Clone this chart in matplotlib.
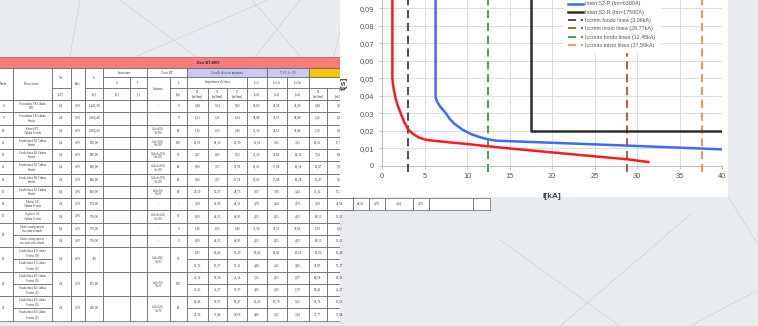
import matplotlib.pyplot as plt
from matplotlib.patches import Rectangle, Polygon
from matplotlib.ticker import MultipleLocator, FuncFormatter

# ---------------- selectivity curves (I in kA, t in s) ----------------
red_I = [1.22, 1.22, 1.30, 1.53, 1.80, 2.20, 2.60, 3.10, 3.70, 4.30, 5.00, 6.00, 8.00, 10.0, 12.45, 16.0, 20.0, 24.0, 28.77, 31.3]
red_t = [0.12, 0.050, 0.046, 0.040, 0.035, 0.030, 0.025, 0.0205, 0.018, 0.0162, 0.0150, 0.0143, 0.0133, 0.0124, 0.0111, 0.0094, 0.0076, 0.0058, 0.0037, 0.0021]

blue_I = [6.3, 6.3, 6.5, 6.8, 7.5, 8.0, 8.5, 9.5, 10.5, 11.5, 12.45, 13.4, 20.0, 28.77, 37.56, 40.0]
blue_t = [0.12, 0.039, 0.0365, 0.034, 0.030, 0.0265, 0.024, 0.0205, 0.018, 0.0163, 0.0151, 0.0143, 0.0131, 0.0115, 0.0098, 0.0093]

black_I = [17.5, 17.5, 40.0]
black_t = [0.12, 0.020, 0.020]

curve_labels = ['Interr.52-L (Im=1250A)', 'Interr.52-P (Im=6300A)', 'Interr.52-R (Im=17500A)']

icc_values = [3.06, 28.77, 12.45, 37.56]
icc_labels = ['Iccmin fondo linea (3,06kA)', 'Iccmin inizio linea (28,77kA)',
              'Iccmax fondo linea (12,45kA)', 'Iccmax inizio linea (37,56kA)']
icc_colors = ['#3f3f3f', '#b4502a', '#3f9a3f', '#f4894a']

# ---------------- network table "Rete BT 400V" ----------------
node_labels = ['8', '9', '10', '11', '12', '13', '14', '15', '16', '17', '18', '19', '20', '21']
node_span = [1, 1, 1, 1, 1, 1, 1, 1, 1, 1, 2, 2, 2, 2]
line_merged = [False] * 11 + [True, True, True]

descriptions = [
    'Secondario TR Cabina\nCBC', 'Secondario TR Cabina\nServizi', 'Sbarra BT\nCabina Servizi',
    'Fondo linea N1 Cabina\nServizi', 'Fondo linea N2 Cabina\nServizi', 'Fondo linea N3 Cabina\nServizi',
    'Fondo linea N4 Cabina\nServizi', 'Fondo linea N5 Cabina\nServizi', 'Motori GE\nCabina Servizi',
    'Ingresso GE\nCabina Servizi', 'Sbarre emergenza in\nesercizio normale', 'Sbarre emergenza in\nesercizio sotto diesel',
    'Fondo linea E1 Cabina\nServizi (N)', 'Fondo linea E1 Cabina\nServizi (E)',
    'Fondo linea E2 Cabina\nServizi (N)', 'Fondo linea E2 Cabina\nServizi (E)',
    'Fondo linea E3 Cabina\nServizi (N)', 'Fondo linea E3 Cabina\nServizi (E)',
]
vn = ['0,4'] * 14
fasi = ['3+N'] * 14
ib = ['1.443,38', '2.309,40', '2.309,40', '500,00', '630,00', '630,00', '630,00', '100,00',
      '578,00', '578,00', '578,00', '320', '125,00', '200,00']
ia = [''] * 14
ir = [''] * 14
sistema = ['-', '-', '3x(1x400)\n+1x300', '3x(1x300)\n+1x150', '3x(2x1x150)\n+1x150', '3x(2x1x150)\n+1x150',
           '3x(2x1x150)\n+1x150', '3x(1x70)\n+1x35', '-', '3x(2x1x120)\n+1x120', '-',
           '3x(1x185)\n+1x95', '3x(1x70)\n+1x35', '3x(1x120)\n+1x70']
length = ['0', '0', '10', '150', '50', '80', '80', '80', '-', '30', '0', '50', '150', '80']

r_max = ['1,88', '1,23', '1,36', '11,59', '4,67', '6,66', '6,66', '23,29', '5,60', '8,26', '1,36', '8,26',
         '6,82', '13,72', '42,32', '49,22', '14,46', '21,36']
x_max = ['9,64', '6,11', '6,31', '18,16', '8,41', '9,67', '9,67', '15,27', '47,90', '40,22', '6,31', '40,22',
         '10,46', '55,37', '19,36', '42,27', '13,03', '35,94']
z_max = ['9,82', '6,24', '6,46', '21,39', '9,62', '11,74', '11,74', '28,73', '48,31', '40,91', '6,46', '40,91',
         '12,49', '55,11', '46,54', '79,37', '19,47', '59,68']
icc3 = ['24,69', '38,88', '37,56', '11,53', '25,20', '20,65', '20,65', '9,07', '4,79', '4,63', '37,56', '4,63',
        '19,42', '4,40', '5,21', '3,05', '12,45', '4,85']
icc1 = ['21,38', '33,67', '32,53', '9,82', '21,82', '17,88', '17,88', '7,86', '4,14', '4,01', '32,53', '4,01',
        '16,82', '3,81', '4,51', '2,65', '10,79', '3,31']
icc2 = ['24,69', '38,88', '32,84', '3,53', '14,32', '10,18', '10,18', '3,44', '4,79', '4,33', '32,84', '4,33',
        '16,66', '3,66', '1,87', '1,59', '5,65', '3,14']
r_min = ['1,88', '1,26', '1,50', '20,61', '7,64', '11,47', '11,47', '43,32', '5,60', '10,53', '1,50', '10,53',
         '12,02', '21,05', '80,58', '89,41', '26,74', '35,77']
x_min = ['9,64', '6,11', '6,31', '17,96', '8,41', '9,67', '9,67', '17,27', '47,96', '49,22', '6,31', '49,22',
         '19,46', '55,37', '19,36', '42,27', '13,03', '35,94']
# rest of the "Motori GE" row (node 16)
motori_tail = ['48,51', '4,79', '4,14', '4,79', '', '']

W, H = 758, 326
fig = plt.figure(figsize=(W / 100, H / 100), dpi=100)
bg = fig.add_axes([0, 0, 1, 1])
bg.set_xlim(0, W)
bg.set_ylim(H, 0)
bg.axis('off')

# slide background with the thin decorative strokes
bg.add_patch(Rectangle((0, 0), W, H, color='#e8ebf0', zorder=0))
strokes = [((70, 56), (80, 0)), ((120, 0), (195, 56)), ((137, 56), (268, 0)), ((252, 0), (300, 56)),
           ((300, 0), (256, 56)), ((334, 56), (340, 30)), ((728, 196), (758, 245)),
           ((560, 326), (690, 215)), ((690, 326), (758, 290)), ((500, 240), (620, 326))]
for a, b in strokes:
    bg.plot([a[0], b[0]], [a[1], b[1]], color='#d3d7de', lw=0.7, zorder=1)

edge = '#505050'
serif = 'Liberation Serif'
clip = Polygon([(-10, 0), (W, 0), (W, 210.7), (340, 210.7), (340, H + 5), (-10, H + 5)],
               closed=True, transform=bg.transData, visible=False)
bg.add_patch(clip)


def cell(x0, x1, y0, y1, text='', fc='white', bold=False, size=2.3):
    r = Rectangle((x0, y0), x1 - x0, y1 - y0, facecolor=fc, edgecolor=edge, lw=0.45, zorder=3)
    bg.add_patch(r)
    r.set_clip_path(clip)
    if text:
        t = bg.text((x0 + x1) / 2, (y0 + y1) / 2, text, ha='center', va='center', fontsize=size,
                    family=serif, color='#333333', fontweight='bold' if bold else 'normal',
                    linespacing=1.1, zorder=4)
        t.set_clip_path(clip)


cols = [-6, 12.7, 51.7, 70.7, 85, 103.3, 130, 146.7, 170, 187, 207.7, 227.3, 247.3, 266.7, 286.7, 309.3, 326.7, 353]
tail_cols = [353, 369, 385, 413, 429, 473, 490]
lav = '#c9c9f7'
yel = '#f6c60a'

# title band
band = Rectangle((-6, 56.7), 500, 11.6, facecolor='#f47c7c', edgecolor='#c05050', lw=0.5, zorder=3)
bg.add_patch(band)
bg.text(208, 62.5, 'Rete BT 400V', ha='center', va='center', fontsize=2.8, family=serif,
        fontweight='bold', color='#222', zorder=4)

h1, h2, h3, h4 = 68.3, 77.0, 88.0, 100.0
cell(cols[0], cols[1], h1, h4, 'Nodo')
cell(cols[1], cols[2], h1, h4, 'Descrizione')
cell(cols[2], cols[3], h1, h3, 'Vn')
cell(cols[2], cols[3], h3, h4, '[kV]')
cell(cols[3], cols[4], h1, h4, 'Fasi')
cell(cols[4], cols[5], h1, h3, 'Ib')
cell(cols[4], cols[5], h3, h4, '[A]')
cell(cols[5], cols[7], h1, h2, 'Inserzione')
cell(cols[5], cols[6], h2, h3, 'Ia')
cell(cols[6], cols[7], h2, h3, 'Ir')
cell(cols[5], cols[6], h3, h4, '[A]')
cell(cols[6], cols[7], h3, h4, '[s]')
cell(cols[7], cols[9], h1, h2, 'Cavo BT')
cell(cols[7], cols[8], h2, h4, 'Sistema')
cell(cols[8], cols[9], h2, h3, 'L')
cell(cols[8], cols[9], h3, h4, '[m]')
cell(cols[9], cols[13], h1, h2, 'Livelli di cc.to massimi', fc=lav)
cell(cols[9], cols[12], h2, h3, 'Impedenza di linea')
cell(cols[12], cols[13], h2, h3, 'Icc3')
for k, lab in enumerate(['R', 'X', 'Z']):
    cell(cols[9 + k], cols[10 + k], h3, h4, lab + '\n[mOhm]')
cell(cols[12], cols[13], h3, h4, '[kA]')
cell(cols[13], cols[15], h1, h2, 'T [°C] = 20', fc=lav)
cell(cols[13], cols[14], h2, h3, 'Icc1ft')
cell(cols[14], cols[15], h2, h3, 'Icc2ft')
cell(cols[13], cols[14], h3, h4, '[kA]')
cell(cols[14], cols[15], h3, h4, '[kA]')
cell(cols[15], 490, h1, h2, 'Livelli di cc.to minimi', fc=yel)
cell(cols[15], 490, h2, h3, 'Impedenza di linea')
cell(cols[15], cols[16], h3, h4, 'R\n[mOhm]')
cell(cols[16], cols[17], h3, h4, 'X\n[mOhm]')

rh = 12.26
sub = 0
for g, node in enumerate(node_labels):
    span = node_span[g]
    y0 = h4 + sub * rh
    y1 = y0 + span * rh
    cell(cols[0], cols[1], y0, y1, node)
    line_vals = [vn[g], fasi[g], ib[g], ia[g], ir[g], sistema[g], length[g]]
    for k in range(span):
        s = sub + k
        ya, yb = h4 + s * rh, h4 + (s + 1) * rh
        cell(cols[1], cols[2], ya, yb, descriptions[s], size=2.1)
        if not line_merged[g]:
            for c, v in enumerate(line_vals):
                cell(cols[2 + c], cols[3 + c], ya, yb, v, size=2.1 if c == 5 else 2.3)
        for c, col in enumerate([r_max, x_max, z_max, icc3, icc1, icc2, r_min, x_min]):
            cell(cols[9 + c], cols[10 + c], ya, yb, col[s])
    if line_merged[g]:
        for c, v in enumerate(line_vals):
            cell(cols[2 + c], cols[3 + c], y0, y1, v, size=2.1 if c == 5 else 2.3)
    if node == '16':
        for c, v in enumerate(motori_tail):
            cell(tail_cols[c], tail_cols[c + 1], y0, y1, v)
    sub += span

# ---------------- chart panel ----------------
bg.add_patch(Rectangle((340, 0), 388, 196.7, facecolor='white', edgecolor='none', zorder=5))

ax = fig.add_axes([382 / W, (H - 165.7) / H, 340.3 / W, 165.7 / H])
ax.set_zorder(6)
ax.patch.set_alpha(0)
sans = 'Liberation Sans'

ax.plot(red_I, red_t, color='#ff1a1a', lw=1.8, label=curve_labels[0], zorder=4)
ax.plot(blue_I, blue_t, color='#3b6cf5', lw=1.8, label=curve_labels[1], zorder=4)
ax.plot(black_I, black_t, color='#2d2d2d', lw=1.8, label=curve_labels[2], zorder=4)
for x, lab, col in zip(icc_values, icc_labels, icc_colors):
    ax.plot([x, x], [-0.0036, 0.12], color=col, lw=1.3, dashes=(4.5, 2.6), label=lab,
            clip_on=False, zorder=3)

ax.set_xlim(0, 40)
ax.set_ylim(0, 0.0947)
ax.xaxis.set_major_locator(MultipleLocator(5))
ax.yaxis.set_major_locator(MultipleLocator(0.01))
ax.yaxis.set_major_formatter(FuncFormatter(lambda v, p: '0' if abs(v) < 1e-9 else f'{v:.2f}'.replace('.', ',')))
ax.grid(True, color='#dcdcdc', lw=0.7)
ax.set_axisbelow(True)
for side in ['top', 'right']:
    ax.spines[side].set_visible(False)
for side in ['left', 'bottom']:
    ax.spines[side].set_color('#bdbdbd')
    ax.spines[side].set_linewidth(0.8)
ax.tick_params(colors='#bdbdbd', labelcolor='#555555', labelsize=5.3, length=2.5, width=0.7, pad=3)
for lbl in ax.get_xticklabels() + ax.get_yticklabels():
    lbl.set_family(sans)

ax.set_xlabel('I[kA]', fontsize=6, fontweight='bold', family=sans, color='#404040', labelpad=9)
ax.set_ylabel('t[s]', fontsize=6, fontweight='bold', family=sans, color='#404040', labelpad=9)

# legend sits high up so that its first entry falls above the visible area
leg = ax.legend(loc='upper left', bbox_to_anchor=(563.5 / W, 1 + 11.2 / H), bbox_transform=fig.transFigure,
                prop={'family': sans, 'size': 3.9}, frameon=True, fancybox=False, framealpha=1,
                edgecolor='white', facecolor='white', handlelength=2.8, handletextpad=0.45,
                labelspacing=0.61, borderpad=0.8, borderaxespad=0)
for t in leg.get_texts():
    t.set_color('#555555')

fig.savefig('out.png', dpi=100)
